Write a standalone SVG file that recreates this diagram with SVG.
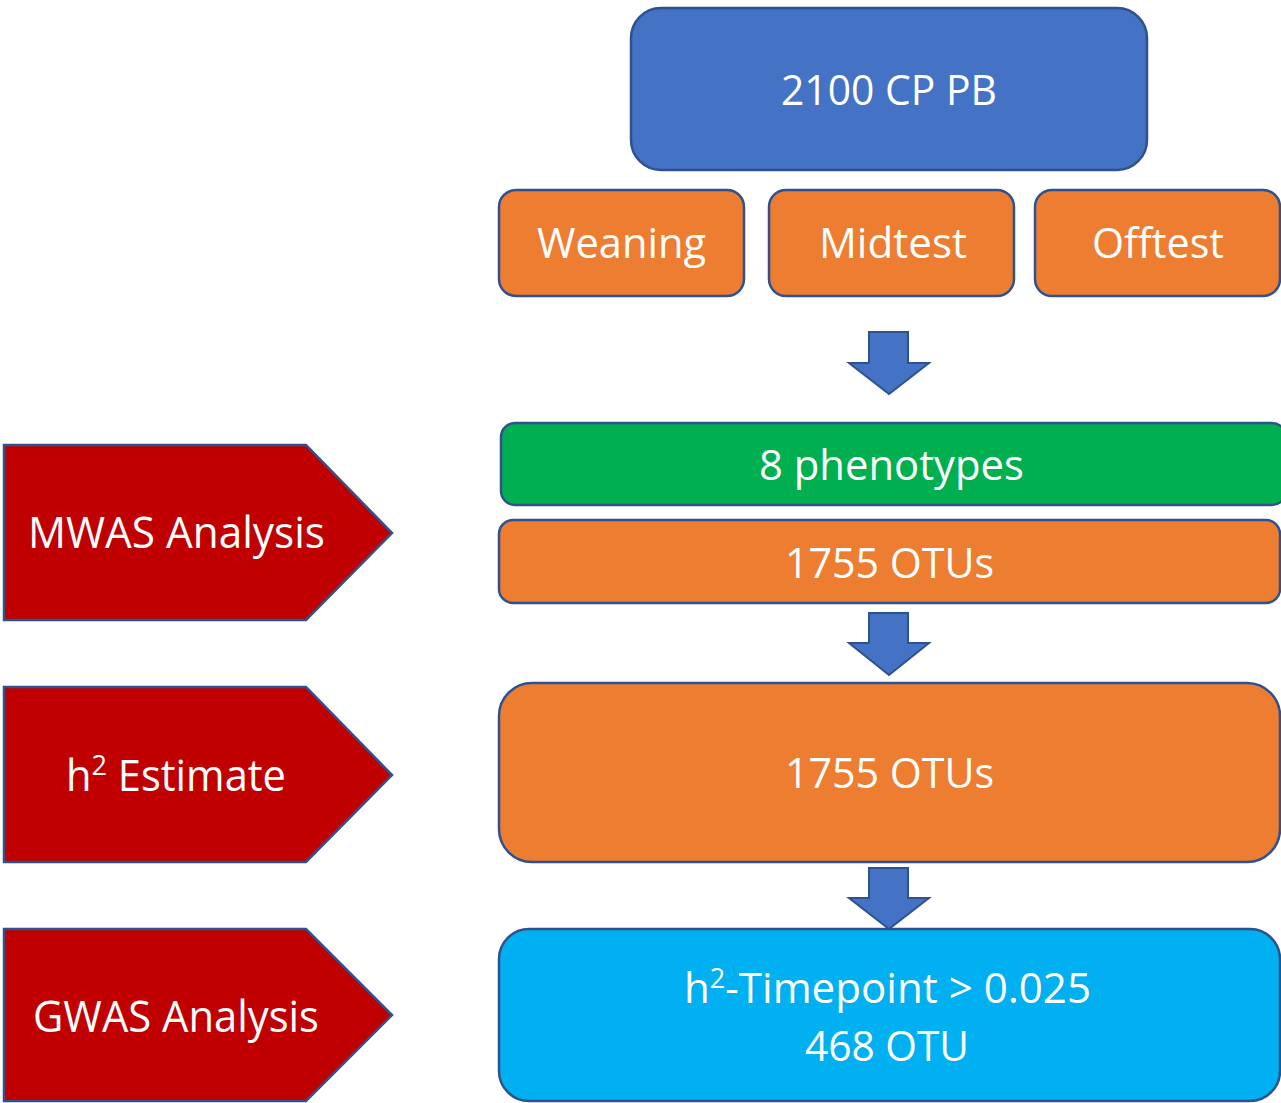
<svg xmlns="http://www.w3.org/2000/svg" width="1281" height="1103" viewBox="0 0 1281 1103">
<style>
.box{stroke:#2F528F;stroke-width:2.5}
.blue{fill:#4472C4}
.orange{fill:#ED7D31}
.green{fill:#00B050}
.cyan{fill:#00B0F0}
.red{fill:#C00000;stroke:#2F528F;stroke-width:2.5}
.arrow{fill:#4472C4;stroke:#2F528F;stroke-width:2}
.t{font-family:"Open Sans","Liberation Sans",sans-serif;fill:#FFFFFF;font-size:42px}
.tl{font-family:"Open Sans","Liberation Sans",sans-serif;fill:#FFFFFF;font-size:43px}
</style>
<rect width="1281" height="1103" fill="#FFFFFF"/>
<g id="n-top">
<rect class="box blue" x="631" y="8" width="516" height="162" rx="30" ry="30"/>
<text class="t" x="781" y="105" textLength="216" lengthAdjust="spacingAndGlyphs">2100 CP PB</text>
</g>
<g id="n-weaning">
<rect class="box orange" x="499" y="190" width="245" height="106" rx="17" ry="17"/>
<text class="t" x="537" y="258" textLength="169" lengthAdjust="spacingAndGlyphs">Weaning</text>
</g>
<g id="n-midtest">
<rect class="box orange" x="769" y="190" width="245" height="106" rx="17" ry="17"/>
<text class="t" x="819" y="258" textLength="148" lengthAdjust="spacingAndGlyphs">Midtest</text>
</g>
<g id="n-offtest">
<rect class="box orange" x="1035" y="190" width="245" height="106" rx="17" ry="17"/>
<text class="t" x="1092" y="258" textLength="132" lengthAdjust="spacingAndGlyphs">Offtest</text>
</g>
<g id="n-phenotypes">
<rect class="box green" x="501" y="423" width="785" height="82" rx="14" ry="14"/>
<text class="t" x="759" y="480" textLength="265" lengthAdjust="spacingAndGlyphs">8 phenotypes</text>
</g>
<g id="n-otus1">
<rect class="box orange" x="499" y="520" width="781" height="83" rx="14" ry="14"/>
<text class="t" x="785" y="578" textLength="209" lengthAdjust="spacingAndGlyphs">1755 OTUs</text>
</g>
<g id="n-otus2">
<rect class="box orange" x="499" y="683" width="781" height="179" rx="33" ry="33"/>
<text class="t" x="785" y="788" textLength="209" lengthAdjust="spacingAndGlyphs">1755 OTUs</text>
</g>
<g id="n-result">
<rect class="box cyan" x="499" y="929" width="781" height="172" rx="30" ry="30"/>
<text class="t" x="684" y="1003" textLength="407" lengthAdjust="spacingAndGlyphs">h<tspan font-size="27" dy="-15">2</tspan><tspan dy="15">-Timepoint &gt; 0.025</tspan></text>
<text class="t" x="805" y="1061" textLength="164" lengthAdjust="spacingAndGlyphs">468 OTU</text>
</g>
<g id="n-mwas">
<polygon class="red" points="4,445 306,445 392,533 306,620 4,620"/>
<text class="tl" x="28" y="548" textLength="297" lengthAdjust="spacingAndGlyphs">MWAS Analysis</text>
</g>
<g id="n-h2">
<polygon class="red" points="4,687 306,687 392,775 306,862 4,862"/>
<text class="tl" x="66" y="791" textLength="220" lengthAdjust="spacingAndGlyphs">h<tspan font-size="28" dy="-16">2</tspan><tspan dy="16"> Estimate</tspan></text>
</g>
<g id="n-gwas">
<polygon class="red" points="4,929 306,929 392,1015 306,1101 4,1101"/>
<text class="tl" x="33" y="1032" textLength="286" lengthAdjust="spacingAndGlyphs">GWAS Analysis</text>
</g>
<g id="connectors">
<polygon class="arrow" points="869,332 908,332 908,363 929,363 889,394 849,363 869,363"/>
<polygon class="arrow" points="869,613 908,613 908,643 929,643 889,675 849,643 869,643"/>
<polygon class="arrow" points="869,868 908,868 908,898 929,898 889,929 849,898 869,898"/>
</g>
</svg>
